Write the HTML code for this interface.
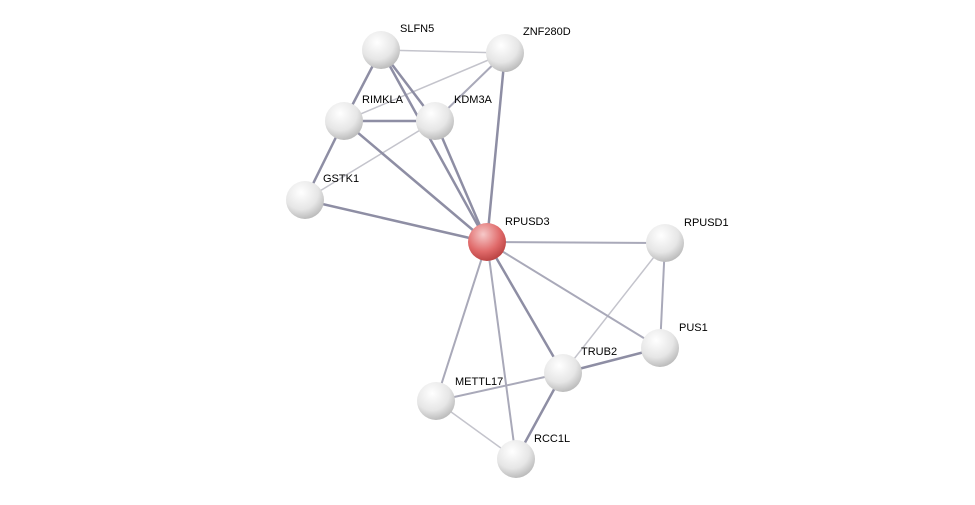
<!DOCTYPE html>
<html><head><meta charset="utf-8"><style>
html,body{margin:0;padding:0;background:#fff;}
svg{display:block;}
text{font-family:"Liberation Sans",sans-serif;font-size:11px;fill:#000;}
</style></head><body>
<svg width="975" height="505" viewBox="0 0 975 505" xmlns="http://www.w3.org/2000/svg">
<defs>
<radialGradient id="g" cx="0.4" cy="0.3" r="0.75">
<stop offset="0" stop-color="#ffffff"/><stop offset="0.6" stop-color="#e6e6e6"/><stop offset="1" stop-color="#b5b5b5"/>
</radialGradient>
<radialGradient id="r" cx="0.4" cy="0.3" r="0.75">
<stop offset="0" stop-color="#f6c9c9"/><stop offset="0.6" stop-color="#e06a6a"/><stop offset="1" stop-color="#b53d3d"/>
</radialGradient>
</defs>
<g stroke-linecap="round">
<g stroke="#c4c4cc" stroke-width="1.5">
<line x1="381" y1="50" x2="505" y2="53"/>
<line x1="505" y1="53" x2="344" y2="121"/>
<line x1="435" y1="121" x2="305" y2="200"/>
<line x1="665" y1="243" x2="563" y2="373"/>
<line x1="436" y1="401" x2="516" y2="459"/>
</g>
<g stroke="#a9a9b9" stroke-width="2">
<line x1="505" y1="53" x2="435" y2="121"/>
<line x1="487" y1="242" x2="665" y2="243"/>
<line x1="487" y1="242" x2="660" y2="348"/>
<line x1="487" y1="242" x2="436" y2="401"/>
<line x1="665" y1="243" x2="660" y2="348"/>
<line x1="563" y1="373" x2="436" y2="401"/>
<line x1="487" y1="242" x2="516" y2="459"/>
</g>
<g stroke="#8e8ea4" stroke-width="2.5">
<line x1="381" y1="50" x2="344" y2="121"/>
<line x1="381" y1="50" x2="435" y2="121"/>
<line x1="381" y1="50" x2="487" y2="242"/>
<line x1="505" y1="53" x2="487" y2="242"/>
<line x1="344" y1="121" x2="435" y2="121"/>
<line x1="344" y1="121" x2="305" y2="200"/>
<line x1="344" y1="121" x2="487" y2="242"/>
<line x1="435" y1="121" x2="487" y2="242"/>
<line x1="305" y1="200" x2="487" y2="242"/>
<line x1="487" y1="242" x2="563" y2="373"/>
<line x1="660" y1="348" x2="563" y2="373"/>
<line x1="563" y1="373" x2="516" y2="459"/>
</g>
</g>
<g>
<circle cx="381" cy="50" r="19" fill="url(#g)"/>
<circle cx="505" cy="53" r="19" fill="url(#g)"/>
<circle cx="344" cy="121" r="19" fill="url(#g)"/>
<circle cx="435" cy="121" r="19" fill="url(#g)"/>
<circle cx="305" cy="200" r="19" fill="url(#g)"/>
<circle cx="487" cy="242" r="19" fill="url(#r)"/>
<circle cx="665" cy="243" r="19" fill="url(#g)"/>
<circle cx="660" cy="348" r="19" fill="url(#g)"/>
<circle cx="563" cy="373" r="19" fill="url(#g)"/>
<circle cx="436" cy="401" r="19" fill="url(#g)"/>
<circle cx="516" cy="459" r="19" fill="url(#g)"/>
</g>
<text x="400" y="32">SLFN5</text>
<text x="523" y="35">ZNF280D</text>
<text x="362" y="103">RIMKLA</text>
<text x="454" y="103">KDM3A</text>
<text x="323" y="182">GSTK1</text>
<text x="505" y="225">RPUSD3</text>
<text x="684" y="226">RPUSD1</text>
<text x="679" y="331">PUS1</text>
<text x="581" y="355">TRUB2</text>
<text x="455" y="385">METTL17</text>
<text x="534" y="442">RCC1L</text>
</svg>
</body></html>
